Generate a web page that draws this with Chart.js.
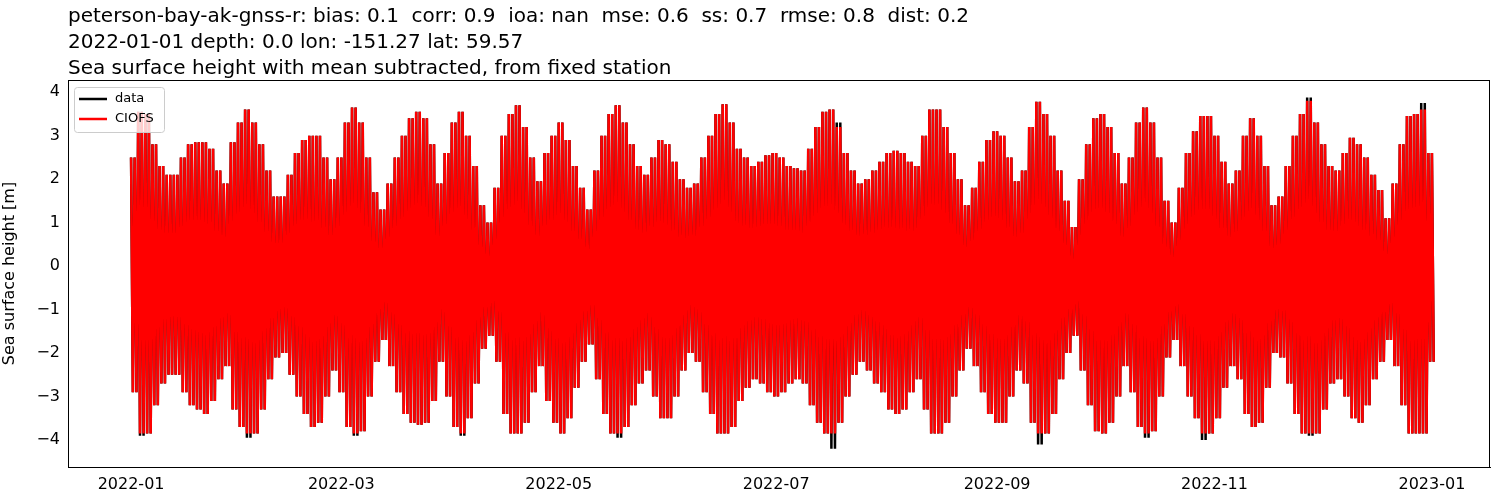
<!DOCTYPE html>
<html>
<head>
<meta charset="utf-8">
<script src="https://cdn.jsdelivr.net/npm/chart.js@4"></script>
<style>
  body { margin: 0; background: #fff; }
  #wrap { width: 1500px; height: 500px; }
</style>
</head>
<body>
<div id="wrap"><canvas id="myChart"></canvas></div>
<script>
const titleLines = [
    "peterson-bay-ak-gnss-r: bias: 0.1  corr: 0.9  ioa: nan  mse: 0.6  ss: 0.7  rmse: 0.8  dist: 0.2",
    "2022-01-01 depth: 0.0 lon: -151.27 lat: 59.57",
    "Sea surface height with mean subtracted, from fixed station"
];

// tide range read every 2 days (day 0 = 2022-01-01); each value stands for the
// high / low waters of that stretch (two tides a day)
const stepDays = 2;
const tidesPerStep = 4;
const modelHigh = [2.5,3.55,3.5,2.8,2.3,2.1,2.1,2.5,2.8,2.85,2.85,2.7,2.2,1.9,2.85,3.3,3.6,3.3,2.8,2.2,
    1.6,1.6,2.1,2.6,2.9,3.0,3.0,2.5,2.0,2.5,3.3,3.65,3.3,2.5,1.7,1.3,1.9,2.5,3.0,3.4,
    3.55,3.4,2.8,1.9,2.6,3.3,3.55,3.0,2.3,1.4,1.0,1.8,3.0,3.5,3.7,3.2,2.5,1.95,2.6,3.0,
    3.3,2.9,2.3,1.8,1.3,2.2,3.0,3.5,3.7,3.3,2.8,2.3,2.1,2.5,2.9,2.8,2.4,2.0,1.8,1.9,
    2.5,3.0,3.5,3.72,3.3,2.7,2.5,2.3,2.4,2.55,2.6,2.5,2.3,2.25,2.2,2.7,3.2,3.55,3.6,3.2,
    2.6,2.2,1.9,2.0,2.2,2.4,2.6,2.65,2.6,2.4,2.3,3.0,3.6,3.6,3.2,2.6,2.0,1.4,1.8,2.4,
    2.9,3.1,3.0,2.5,1.95,2.2,3.2,3.78,3.5,3.0,2.2,1.5,0.9,2.0,2.8,3.4,3.5,3.2,2.6,1.9,
    2.5,3.3,3.65,3.3,2.5,1.5,1.0,1.8,2.6,3.1,3.45,3.45,3.0,2.4,1.9,2.2,3.0,3.4,3.0,2.3,
    1.4,1.6,2.3,3.0,3.5,3.8,3.3,2.8,2.3,2.2,2.6,2.95,2.8,2.5,2.1,1.75,1.1,1.9,2.8,3.45,
    3.5,3.6,2.6];
const modelLow = [-2.9,-3.85,-3.85,-3.2,-2.7,-2.5,-2.5,-2.9,-3.2,-3.3,-3.4,-3.1,-2.6,-2.3,-3.3,-3.7,-3.85,-3.85,-3.3,-2.6,
    -2.1,-2.0,-2.5,-3.0,-3.4,-3.7,-3.6,-3.0,-2.4,-2.9,-3.7,-3.85,-3.8,-3.0,-2.2,-1.7,-2.3,-2.9,-3.4,-3.6,
    -3.65,-3.6,-3.1,-2.2,-3.0,-3.7,-3.85,-3.5,-2.7,-1.9,-1.6,-2.2,-3.4,-3.85,-3.85,-3.6,-2.9,-2.3,-3.1,-3.6,
    -3.85,-3.5,-2.8,-2.2,-1.8,-2.6,-3.4,-3.85,-3.85,-3.7,-3.2,-2.7,-2.4,-3.0,-3.5,-3.5,-3.0,-2.4,-2.0,-2.2,
    -2.9,-3.4,-3.85,-3.85,-3.7,-3.1,-2.8,-2.6,-2.7,-2.9,-3.0,-2.9,-2.7,-2.6,-2.7,-3.2,-3.6,-3.85,-3.85,-3.6,
    -3.0,-2.5,-2.2,-2.4,-2.7,-2.9,-3.3,-3.4,-3.3,-2.9,-2.6,-3.3,-3.85,-3.85,-3.6,-3.0,-2.4,-1.9,-2.3,-2.9,
    -3.4,-3.6,-3.6,-3.0,-2.4,-2.7,-3.6,-3.85,-3.85,-3.4,-2.6,-2.0,-1.6,-2.4,-3.2,-3.8,-3.85,-3.6,-3.0,-2.3,
    -2.9,-3.7,-3.85,-3.8,-3.0,-2.1,-1.7,-2.3,-3.0,-3.5,-3.85,-3.85,-3.5,-2.8,-2.3,-2.6,-3.4,-3.7,-3.6,-2.8,
    -2.0,-2.1,-2.7,-3.4,-3.85,-3.85,-3.85,-3.3,-2.7,-2.6,-3.0,-3.5,-3.6,-3.2,-2.6,-2.2,-1.7,-2.3,-3.2,-3.85,
    -3.85,-3.85,-2.2];

// observed series: same as model except where the black line shows past the red
const dataHighDiff = [[99, 3.3], [165, 3.88], [181, 3.75]];
const dataLowDiff = [[1, -3.9], [16, -3.95], [31, -3.9], [46, -3.9], [68, -3.95], [98, -4.2],
    [127, -4.1], [142, -3.95], [150, -4.0], [165, -3.9]];

const tickDays = [0, 59, 120, 181, 243, 304, 365];
const tickLabels = ["2022-01", "2022-03", "2022-05", "2022-07", "2022-09", "2022-11", "2023-01"];
const yTicks = [-4, -3, -2, -1, 0, 1, 2, 3, 4];

function tideLine(high, low) {
    const pts = [];
    const n = Math.min(high.length, low.length);
    const dt = stepDays / tidesPerStep;
    for (let i = 0; i < n; i++) {
        for (let k = 0; k < tidesPerStep; k++) {
            pts.push({ x: i * stepDays + k * dt, y: k % 2 === 0 ? high[i] : low[i] });
        }
    }
    return pts;
}

function withDiffs(base, diffs) {
    const out = base.slice();
    diffs.forEach(d => { out[d[0]] = d[1]; });
    return out;
}

const overlay = {
    id: "overlay",
    afterDraw(chart) {
        const ctx = chart.ctx;
        const a = chart.chartArea;
        ctx.save();
        ctx.strokeStyle = "#000";
        ctx.lineWidth = 1;
        ctx.strokeRect(a.left + 0.5, a.top + 0.5, a.right - a.left - 1, a.bottom - a.top);

        ctx.fillStyle = "#000";
        ctx.font = "20px 'DejaVu Sans'";
        ctx.textBaseline = "alphabetic";
        titleLines.forEach((t, i) => ctx.fillText(t, a.left, 22 + i * 26));

        // legend
        ctx.fillStyle = "rgba(255,255,255,0.8)";
        ctx.strokeStyle = "#ccc";
        ctx.lineWidth = 1;
        ctx.beginPath();
        ctx.roundRect(a.left + 6.5, a.top + 7.5, 90, 45, 3);
        ctx.fill();
        ctx.stroke();
        const items = [["data", "#000"], ["CIOFS", "#ff0000"]];
        ctx.font = "13px 'DejaVu Sans'";
        ctx.textBaseline = "middle";
        items.forEach((it, i) => {
            const y = a.top + 19 + i * 20;
            ctx.strokeStyle = it[1];
            ctx.lineWidth = 2.5;
            ctx.beginPath();
            ctx.moveTo(a.left + 11, y);
            ctx.lineTo(a.left + 39, y);
            ctx.stroke();
            ctx.fillStyle = "#000";
            ctx.fillText(it[0], a.left + 47, y);
        });
        ctx.restore();
    }
};

window.onload = () => {
    const config = {
        type: "line",
        data: {
            datasets: [
                {
                    label: "data",
                    data: tideLine(withDiffs(modelHigh, dataHighDiff), withDiffs(modelLow, dataLowDiff)),
                    borderColor: "#000",
                    borderWidth: 2.5,
                    pointRadius: 0,
                    tension: 0,
                    order: 2
                },
                {
                    label: "CIOFS",
                    data: tideLine(modelHigh, modelLow),
                    borderColor: "#ff0000",
                    borderWidth: 2.5,
                    pointRadius: 0,
                    tension: 0,
                    order: 1
                }
            ]
        },
        options: {
            responsive: false,
            animation: false,
            parsing: false,
            layout: { padding: { top: 80, right: 10, left: 0, bottom: 0 } },
            plugins: { legend: { display: false }, tooltip: { enabled: false } },
            scales: {
                x: {
                    type: "linear",
                    min: -17.7,
                    max: 381.3,
                    grid: { display: false, drawTicks: true, tickLength: 5, tickColor: "#000" },
                    border: { color: "#000", width: 1 },
                    afterBuildTicks: s => { s.ticks = tickDays.map(v => ({ value: v })); },
                    afterFit: s => { s.height = 33; },
                    ticks: {
                        autoSkip: false,
                        maxRotation: 0,
                        color: "#000",
                        font: { family: "DejaVu Sans", size: 16 },
                        callback: (v, i) => tickLabels[i]
                    }
                },
                y: {
                    min: -4.62,
                    max: 4.28,
                    grid: { display: false, drawTicks: true, tickLength: 5, tickColor: "#000" },
                    border: { color: "#000", width: 1 },
                    afterBuildTicks: s => { s.ticks = yTicks.map(v => ({ value: v })); },
                    afterFit: s => { s.width = 68; },
                    ticks: {
                        color: "#000",
                        font: { family: "DejaVu Sans", size: 16 },
                        callback: v => (v < 0 ? "\u2212" + Math.abs(v) : String(v))
                    },
                    title: {
                        display: true,
                        text: "Sea surface height [m]",
                        color: "#000",
                        font: { family: "DejaVu Sans", size: 16 },
                        padding: 0
                    }
                }
            }
        },
        plugins: [overlay]
    };
    const canvas = document.getElementById("myChart");
    canvas.width = 1500;
    canvas.height = 500;
    new Chart(canvas.getContext("2d"), config);
};
</script>
</body>
</html>
